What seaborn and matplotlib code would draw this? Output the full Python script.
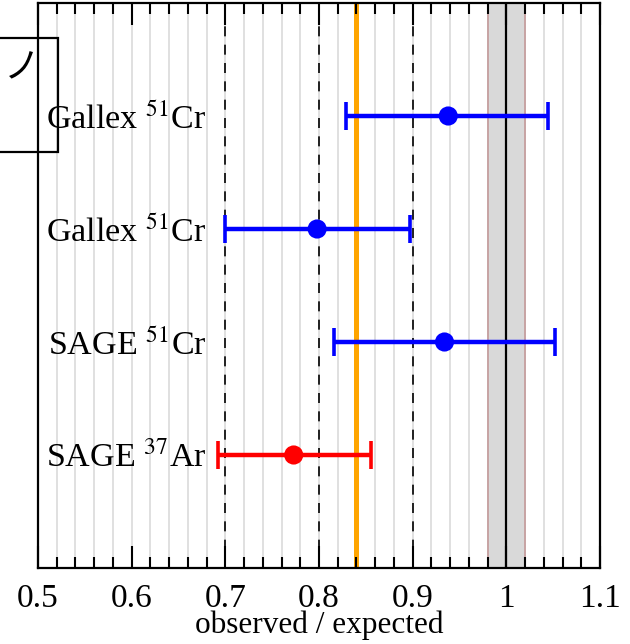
import matplotlib
matplotlib.use("Agg")
import matplotlib.pyplot as plt
import seaborn as sns
import pandas as pd
import numpy as np
from matplotlib.patches import Rectangle

# ---- data ----
labels = ["Gallex $^{51}$Cr", "Gallex $^{51}$Cr", "SAGE $^{51}$Cr", "SAGE $^{37}$Ar"]
ypos = [4, 3, 2, 1]
ratio = [0.938, 0.798, 0.934, 0.773]
err_lo = [0.829, 0.700, 0.816, 0.692]
err_hi = [1.044, 0.897, 1.052, 0.855]
source = ["Cr", "Cr", "Cr", "Ar"]
ref_lines = [0.7, 0.8, 0.9]
mean_val = 0.84
band = [0.98, 1.02]
xticks = [0.5, 0.6, 0.7, 0.8, 0.9, 1.0, 1.1]
xticklabels = ["0.5", "0.6", "0.7", "0.8", "0.9", "1", "1.1"]

df = pd.DataFrame({"label": labels, "y": ypos, "ratio": ratio,
                   "lo": err_lo, "hi": err_hi, "source": source})

sns.set_style("ticks")
plt.rcParams.update({
    "font.family": ["Liberation Serif", "DejaVu Serif"],
    "mathtext.fontset": "stix",
    "text.color": "black",
    "axes.labelcolor": "black",
    "xtick.color": "black",
    "xtick.labelcolor": "black",
})

fig = plt.figure(figsize=(6.3, 6.44), dpi=100)
ax = fig.add_axes([38/630, 1-568/644, 562/630, 565/644])

ax.set_xlim(0.5, 1.1)
ax.set_ylim(0, 5)

# background grid lines every 0.02
for gx in np.arange(0.52, 1.1, 0.02):
    ax.axvline(gx, color="#e0e0e0", lw=1.4, zorder=0)

# band around 1
ax.axvspan(band[0], band[1], facecolor="#d9d9d9", edgecolor="#c49a9a", lw=1.2, zorder=1)
ax.axvline(1.0, color="black", lw=1.6, zorder=2)
for rx in ref_lines:
    ax.axvline(rx, color="black", lw=1.2, ls=(0, (6, 5)), zorder=2)
ax.axvline(mean_val, color="orange", lw=3.6, zorder=2)

palette = {"Cr": "blue", "Ar": "red"}
for _, r in df.iterrows():
    c = palette[r["source"]]
    ax.errorbar([r["ratio"]], [r["y"]],
                xerr=[[r["ratio"] - r["lo"]], [r["hi"] - r["ratio"]]],
                fmt="none", ecolor=c, elinewidth=3.2, capsize=10, capthick=2.6, zorder=3)

sns.scatterplot(data=df, x="ratio", y="y", hue="source", palette=palette,
                s=190, edgecolor="none", legend=False, ax=ax, zorder=4)

for _, r in df.iterrows():
    ax.text(0.68, r["y"] - 0.03, r["label"], ha="right", va="center",
            fontsize=24.5, color="black", zorder=5)

ax.set_xticks(xticks)
ax.set_xticklabels(xticklabels)
ax.set_xticks(np.arange(0.52, 1.1, 0.02), minor=True)
ax.set_yticks([])
ax.tick_params(axis="x", which="major", direction="in", length=16, width=1.5,
               top=True, bottom=True, labelsize=24, pad=11, color="black",
               labelcolor="black")
ax.tick_params(axis="x", which="minor", direction="in", length=8, width=1.5,
               top=True, bottom=True, color="black")
ax.set_xlabel("observed / expected", fontsize=22.5, labelpad=-2, color="black")
ax.set_ylabel("")
ax.xaxis.set_zorder(10)
for sp in ax.spines.values():
    sp.set_visible(True)
    sp.set_color("black")
    sp.set_linewidth(1.6)

# clipped box artifact at top left
fig.add_artist(Rectangle((-0.05, 1-152/644), 0.05 + 58/630, 114/644,
                         transform=fig.transFigure, fill=False,
                         edgecolor="black", lw=1.6, clip_on=False))
fig.text(22/630, 1-68/644, "ノ", fontsize=26, ha="center", va="center",
         color="black", family=["Noto Sans CJK JP", "DejaVu Sans"])

fig.savefig("out.png", dpi=100)
